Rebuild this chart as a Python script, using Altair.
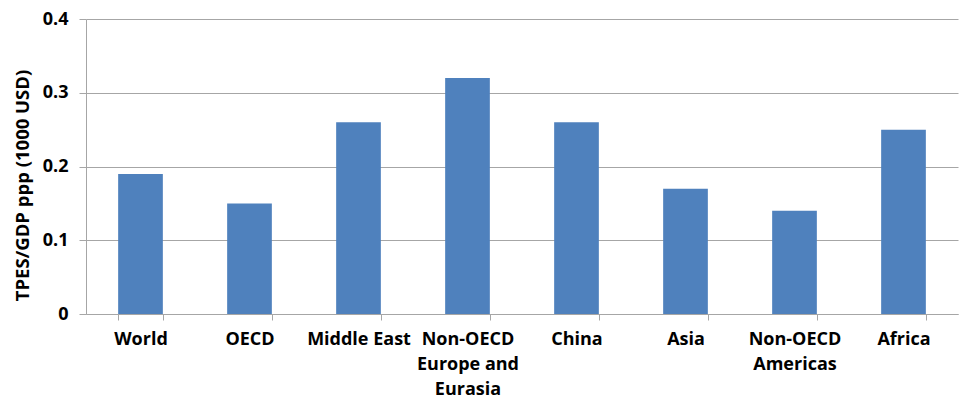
import altair as alt
import pandas as pd

# Energy intensity by region
regions = [
    "World",
    "OECD",
    "Middle East",
    "Non-OECD\nEurope and\nEurasia",
    "China",
    "Asia",
    "Non-OECD\nAmericas",
    "Africa",
]
intensity = [0.19, 0.15, 0.26, 0.32, 0.26, 0.17, 0.14, 0.25]

df = pd.DataFrame({"region": regions, "value": intensity})

FONT = "Open Sans"
GRID = "#a6a6a6"

chart = (
    alt.Chart(df)
    .mark_bar(color="#4F81BD")
    .encode(
        x=alt.X(
            "region:N",
            sort=regions,
            title=None,
            scale=alt.Scale(paddingInner=0.59, paddingOuter=0.295),
            axis=alt.Axis(
                labelAngle=0,
                labelExpr="datum.value ? split(datum.value, '\\n') : ''",
                labelFont=FONT,
                labelFontSize=18,
                labelFontWeight="bold",
                labelColor="#000000",
                labelLineHeight=25,
                labelPadding=10,
                tickBand="extent",
                tickSize=6,
                tickColor=GRID,
                domainColor=GRID,
                labelLimit=200,
            ),
        ),
        y=alt.Y(
            "value:Q",
            title="TPES/GDP ppp (1000 USD)",
            scale=alt.Scale(domain=[0, 0.4]),
            axis=alt.Axis(
                values=[0, 0.1, 0.2, 0.3, 0.4],
                labelExpr="datum.value == 0 ? '0' : format(datum.value, '.1f')",
                labelFont=FONT,
                labelFontSize=18,
                labelFontWeight="bold",
                labelColor="#000000",
                labelPadding=11,
                tickSize=7,
                tickColor=GRID,
                domainColor=GRID,
                gridColor=GRID,
                titleFont=FONT,
                titleFontSize=18.5,
                titleFontWeight="bold",
                titleColor="#000000",
                titlePadding=10,
                titleY=166,
            ),
        ),
    )
    .properties(
        width=872,
        height=295,
        padding={"left": 86, "top": 19, "right": 8, "bottom": 84},
        autosize=alt.AutoSizeParams(type="none"),
    )
    .configure_view(stroke=None)
)

chart.save("out.html", embed_options={"renderer": "svg", "actions": False})
